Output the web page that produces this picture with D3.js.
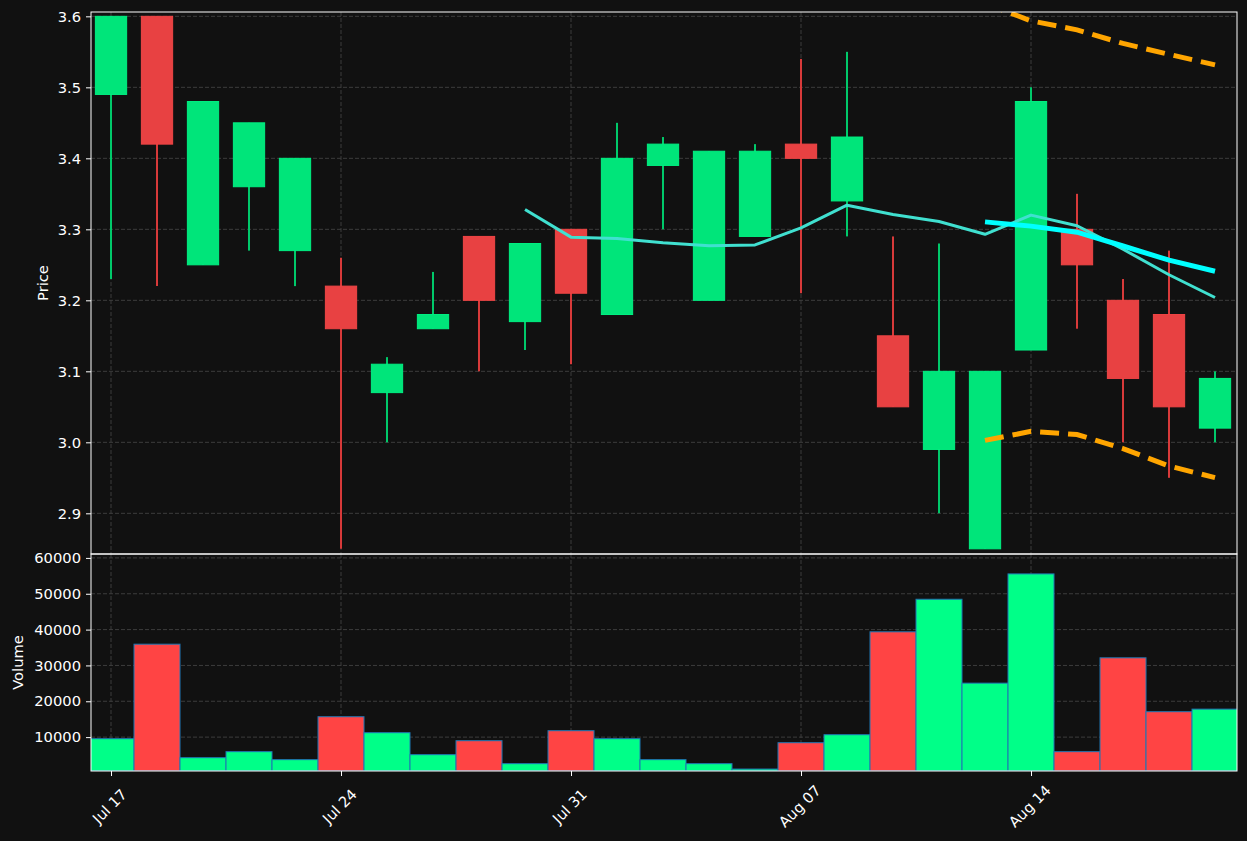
<!DOCTYPE html>
<html>
<head>
<meta charset="utf-8">
<script src="https://cdn.jsdelivr.net/npm/d3@7"></script>
<style>
  html, body { margin: 0; padding: 0; background: #111111; }
  svg { display: block; }
  text { font-family: "DejaVu Sans", sans-serif; }
</style>
</head>
<body>
<script>
// ---------------- DATA ----------------
const dates = ["Jul 17","Jul 18","Jul 19","Jul 20","Jul 21","Jul 24","Jul 25","Jul 26","Jul 27","Jul 28",
               "Jul 31","Aug 01","Aug 02","Aug 03","Aug 04","Aug 07","Aug 08","Aug 09","Aug 10","Aug 11",
               "Aug 14","Aug 15","Aug 16","Aug 17","Aug 18"];
const open  = [3.49,3.60,3.25,3.36,3.27,3.22,3.07,3.16,3.29,3.17,3.30,3.18,3.39,3.20,3.29,3.42,3.34,3.15,2.99,2.85,3.13,3.30,3.20,3.18,3.02];
const high  = [3.60,3.60,3.48,3.45,3.40,3.26,3.12,3.24,3.29,3.28,3.30,3.45,3.43,3.41,3.42,3.54,3.55,3.29,3.28,3.10,3.50,3.35,3.23,3.27,3.10];
const low   = [3.23,3.22,3.25,3.27,3.22,2.85,3.00,3.16,3.10,3.13,3.11,3.18,3.30,3.20,3.29,3.21,3.29,3.05,2.90,2.85,3.13,3.16,3.00,2.95,3.00];
const close = [3.60,3.42,3.48,3.45,3.40,3.16,3.11,3.18,3.20,3.28,3.21,3.40,3.42,3.41,3.41,3.40,3.43,3.05,3.10,3.10,3.48,3.25,3.09,3.05,3.09];
const volume = [9560,35930,4260,5940,3710,15690,11230,5100,9000,2590,11790,9560,3710,2590,1090,8440,10670,39380,48470,25060,55540,5940,32130,17090,17810];
const ma10 = [null,null,null,null,null,null,null,null,null,3.328,3.289,3.287,3.281,3.277,3.278,3.302,3.334,3.321,3.311,3.293,3.320,3.305,3.272,3.236,3.204];
const ma20 = [null,null,null,null,null,null,null,null,null,null,null,null,null,null,null,null,null,null,null,3.3105,3.3045,3.2960,3.2765,3.2565,3.2410];
const bbUpper = [null,null,null,null,null,null,null,null,null,null,null,null,null,null,null,null,null,null,null,3.6183,3.5936,3.5810,3.5618,3.5464,3.5317];
const bbLower = [null,null,null,null,null,null,null,null,null,null,null,null,null,null,null,null,null,null,null,3.0027,3.0154,3.0110,2.9912,2.9666,2.9503];
const xTickLabels = ["Jul 17","Jul 24","Jul 31","Aug 07","Aug 14"];
const priceTicks = [2.9,3.0,3.1,3.2,3.3,3.4,3.5,3.6];
const volumeTicks = [10000,20000,30000,40000,50000,60000];

// ---------------- LAYOUT ----------------
const W = 1247, H = 841;
const left = 91, right = 1237;
const pTop = 12, pBot = 554, vTop = 554, vBot = 771;

const GREEN_BODY = "#00e57a", GREEN_EDGE = "#00f082", GREEN_WICK = "#00c96a";
const RED_BODY = "#e84142", RED_EDGE = "#f04545", RED_WICK = "#d83a3a";
const VOL_GREEN = "#00ff88", VOL_RED = "#ff4444", VOL_EDGE = "#1f77b4";
const GRID = "#3d3d3d";
const FONT = 14.7;

const svg = d3.select("body").append("svg").attr("width", W).attr("height", H);
svg.append("rect").attr("width", W).attr("height", H).attr("fill", "#111111");

const idx = d3.range(dates.length);
const x = d3.scaleLinear().domain([-0.435, 24.478]).range([left, right]);
const yP = d3.scaleLinear().domain([2.8427, 3.6061]).range([pBot, pTop]);
const yV = d3.scaleLinear().domain([545, 61094]).range([vBot, vTop]);
const step = x(1) - x(0);

const defs = svg.append("defs");
defs.append("clipPath").attr("id", "clipP").append("rect")
  .attr("x", left).attr("y", pTop).attr("width", right - left).attr("height", pBot - pTop);
defs.append("clipPath").attr("id", "clipV").append("rect")
  .attr("x", left).attr("y", vTop).attr("width", right - left).attr("height", vBot - vTop);

const tickIdx = xTickLabels.map(l => dates.indexOf(l));

// ---------------- GRID ----------------
function grid(g, yScale, ticks, top, bot) {
  g.selectAll("line.h").data(ticks).join("line")
    .attr("x1", left).attr("x2", right)
    .attr("y1", d => yScale(d)).attr("y2", d => yScale(d))
    .attr("stroke", GRID).attr("stroke-width", 1).attr("stroke-dasharray", "4,2");
  g.selectAll("line.v").data(tickIdx).join("line").attr("class", "v")
    .attr("x1", d => x(d)).attr("x2", d => x(d))
    .attr("y1", top).attr("y2", bot)
    .attr("stroke", GRID).attr("stroke-width", 1).attr("stroke-dasharray", "4,2");
}
const gP = svg.append("g").attr("clip-path", "url(#clipP)");
const gV = svg.append("g").attr("clip-path", "url(#clipV)");
grid(gP.append("g"), yP, priceTicks, pTop, pBot);
grid(gV.append("g"), yV, volumeTicks, vTop, vBot);

// ---------------- CANDLES ----------------
const up = i => close[i] >= open[i];
const bw = step * 0.68;
gP.append("g").selectAll("line").data(idx).join("line")
  .attr("x1", i => x(i)).attr("x2", i => x(i))
  .attr("y1", i => yP(high[i])).attr("y2", i => yP(low[i]))
  .attr("stroke", i => up(i) ? GREEN_WICK : RED_WICK).attr("stroke-width", 2);
gP.append("g").selectAll("rect").data(idx).join("rect")
  .attr("x", i => x(i) - bw / 2).attr("width", bw)
  .attr("y", i => yP(Math.max(open[i], close[i])))
  .attr("height", i => Math.max(1, yP(Math.min(open[i], close[i])) - yP(Math.max(open[i], close[i]))))
  .attr("fill", i => up(i) ? GREEN_BODY : RED_BODY)
  .attr("stroke", i => up(i) ? GREEN_EDGE : RED_EDGE).attr("stroke-width", 1);

// ---------------- INDICATORS ----------------
function series(arr) { return idx.filter(i => arr[i] != null).map(i => [i, arr[i]]); }
const line = d3.line().x(d => x(d[0])).y(d => yP(d[1]));
gP.append("path").datum(series(ma10)).attr("d", line)
  .attr("fill", "none").attr("stroke", "#40e0d0").attr("stroke-width", 3).attr("stroke-linejoin", "round");
gP.append("path").datum(series(ma20)).attr("d", line)
  .attr("fill", "none").attr("stroke", "#00ffff").attr("stroke-width", 5);
[bbUpper, bbLower].forEach(arr => {
  gP.append("path").datum(series(arr)).attr("d", line)
    .attr("fill", "none").attr("stroke", "#ffa500").attr("stroke-width", 5)
    .attr("stroke-dasharray", "19,9");
});

// ---------------- VOLUME ----------------
gV.append("g").selectAll("rect").data(idx).join("rect")
  .attr("x", i => x(i) - step / 2).attr("width", step)
  .attr("y", i => yV(volume[i])).attr("height", i => yV(yV.domain()[0]) - yV(volume[i]))
  .attr("fill", i => up(i) ? VOL_GREEN : VOL_RED)
  .attr("stroke", VOL_EDGE).attr("stroke-width", 1);

// ---------------- AXES ----------------
function styleAxis(g) {
  g.select(".domain").remove();
  g.selectAll(".tick line").attr("stroke", "#ffffff").attr("stroke-width", 1);
  g.selectAll(".tick text").attr("fill", "#ffffff").style("font-size", FONT + "px")
    .style("font-family", "DejaVu Sans");
}
svg.append("g").attr("transform", `translate(${left},0)`)
  .call(d3.axisLeft(yP).tickValues(priceTicks).tickFormat(d3.format(".1f")).tickSize(5).tickPadding(5))
  .call(styleAxis);
svg.append("g").attr("transform", `translate(${left},0)`)
  .call(d3.axisLeft(yV).tickValues(volumeTicks).tickFormat(d3.format("d")).tickSize(5).tickPadding(5))
  .call(styleAxis);
const xAx = svg.append("g").attr("transform", `translate(0,${vBot})`)
  .call(d3.axisBottom(x).tickValues(tickIdx).tickFormat((d, i) => xTickLabels[i]).tickSize(5).tickPadding(5))
  .call(styleAxis);
xAx.selectAll(".tick text")
  .attr("y", null).attr("dy", null)
  .attr("text-anchor", "middle").attr("dominant-baseline", "central")
  .attr("transform", "translate(-2,35) rotate(-45)");

// ---------------- SPINES ----------------
svg.append("rect").attr("x", left).attr("y", pTop).attr("width", right - left).attr("height", pBot - pTop)
  .attr("fill", "none").attr("stroke", "#ffffff").attr("stroke-width", 1);
svg.append("rect").attr("x", left).attr("y", vTop).attr("width", right - left).attr("height", vBot - vTop)
  .attr("fill", "none").attr("stroke", "#ffffff").attr("stroke-width", 1);

// ---------------- LABELS ----------------
svg.append("text").text("Price").attr("fill", "#ffffff").style("font-size", FONT + "px")
  .attr("text-anchor", "middle").attr("dominant-baseline", "central")
  .attr("transform", `translate(42,${(pTop + pBot) / 2}) rotate(-90)`);
svg.append("text").text("Volume").attr("fill", "#ffffff").style("font-size", FONT + "px")
  .attr("text-anchor", "middle").attr("dominant-baseline", "central")
  .attr("transform", `translate(17,${(vTop + vBot) / 2}) rotate(-90)`);
</script>
</body>
</html>
